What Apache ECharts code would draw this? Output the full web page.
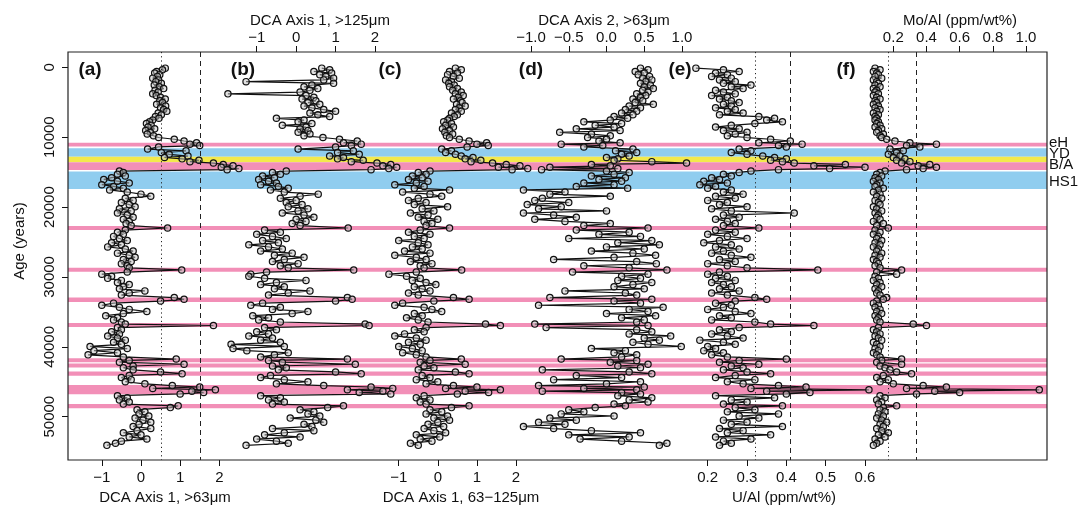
<!DOCTYPE html>
<html>
<head>
<meta charset="utf-8">
<script src="https://cdn.jsdelivr.net/npm/echarts@6/dist/echarts.min.js"></script>
<style>
  html, body { margin: 0; padding: 0; background: #fff; }
  #chart { width: 1084px; height: 506px; }
</style>
</head>
<body>
<div id="chart"></div>
<script>
// Sample ages (years), shared by all six down-core profiles
const ages = [
  120, 350, 600, 820, 1050, 1300, 1550, 1800, 2050, 2300,
  2550, 2800, 3050, 3300, 3550, 3800, 4050, 4300, 4550, 4800,
  5050, 5300, 5550, 5800, 6050, 6300, 6550, 6800, 7050, 7300,
  7550, 7800, 8050, 8300, 8550, 8800, 9050, 9300, 9550, 9800,
  10050, 10300, 10550, 10800, 11000, 11200, 11400, 11700, 11950, 12200,
  12450, 12700, 12900, 13100, 13300, 13500, 13700, 13900, 14100, 14300,
  14500, 14650, 14850, 15050, 15300, 15550, 15800, 16050, 16300, 16550,
  16800, 17050, 17300, 17550, 17850, 18150, 18450, 18750, 19050, 19350,
  19650, 19950, 20250, 20550, 20850, 21150, 21450, 21750, 22050, 22350,
  22650, 23000, 23300, 23600, 23900, 24200, 24500, 24800, 25100, 25400,
  25700, 26000, 26300, 26600, 26900, 27200, 27500, 27800, 28100, 28400,
  28700, 29000, 29300, 29600, 29900, 30200, 30500, 30800, 31100, 31400,
  31700, 32000, 32300, 32600, 32950, 33200, 33450, 33750, 34050, 34350,
  34650, 34950, 35250, 35550, 35850, 36150, 36450, 36750, 36950, 37250,
  37550, 37850, 38150, 38450, 38750, 39050, 39350, 39650, 39950, 40250,
  40550, 40850, 41150, 41450, 41750, 41950, 42200, 42500, 42750, 43000,
  43300, 43600, 43850, 44100, 44400, 44700, 45000, 45300, 45550, 45750,
  45950, 46150, 46350, 46550, 46750, 47000, 47300, 47600, 47900, 48200,
  48450, 48700, 49000, 49300, 49600, 49900, 50200, 50500, 50800, 51100,
  51400, 51700, 52000, 52300, 52600, 52900, 53200, 53500, 53800, 54100
];

// (a) DCA axis 1, >63 µm fraction
const dca1Over63 = [
  0.62, 0.55, 0.40, 0.35, 0.48, 0.42, 0.30, 0.45, 0.38, 0.52,
  0.34, 0.47, 0.58, 0.36, 0.44, 0.30, 0.39, 0.50, 0.62, 0.48,
  0.55, 0.40, 0.63, 0.50, 0.58, 0.66, 0.44, 0.52, 0.37, 0.46,
  0.30, 0.22, 0.14, 0.26, 0.18, 0.35, 0.12, 0.24, 0.16, 0.32,
  0.45, 0.85, 1.10, 1.42, 1.25, 1.50, 0.45, 0.17, 1.15, 0.52,
  0.72, 1.20, 0.60, 1.05, 1.48, 1.25, 1.85, 2.10, 2.35, 2.05,
  2.50, 2.20, -0.55, -0.45, -0.60, -0.40, -0.75, -0.95, -0.60, -0.30,
  -1.00, -0.70, -0.45, -0.80, -0.35, 0.00, 0.25, -0.40, -0.20, -0.50,
  -0.30, -0.15, -0.55, -0.25, -0.60, -0.35, -0.20, -0.45, -0.30, -0.38,
  -0.25, 0.68, -0.40, -0.60, -0.45, -0.70, -0.55, -0.35, -0.75, -0.50,
  -0.85, -0.40, -0.20, -0.60, -0.30, -0.15, -0.45, -0.25, -0.50, -0.35,
  -0.30, 1.04, -0.35, -1.00, -0.75, -0.85, -0.50, -0.60, -0.30, -0.45,
  -0.55, 0.10, -0.30, -0.50, 0.85, 1.10, 0.50, -0.70, -1.00, -0.55,
  -0.30, 0.15, -0.45, -0.90, -0.60, -0.70, -0.50, -0.40, 1.85, -0.60,
  -0.50, -0.75, -0.55, -0.85, -0.60, -0.40, -0.70, -0.50, -1.30, -0.35,
  -1.20, -0.60, -1.35, -0.45, 0.90, -0.30, -0.55, 1.10, -0.20, -0.45,
  -0.20, 0.50, 1.05, -0.30, -0.50, -0.25, -0.40, 0.10, 0.80, 1.50,
  0.30, 1.90, 1.30, 1.60, 1.00, -0.60, -0.35, -0.55, -0.30, -0.45,
  0.95, 0.75, -0.10, 0.10, -0.05, 0.20, -0.15, 0.05, 0.25, -0.05,
  -0.20, 0.25, -0.10, -0.45, 0.00, -0.30, 0.15, -0.50, -0.65, -0.87
];

// (b) DCA axis 1, >125 µm fraction
const dca1Over125 = [
  0.65, 0.85, 0.45, 0.90, 0.60, 0.75, 0.95, 0.70, -1.27, 0.95,
  0.40, 0.20, 0.55, 0.35, 0.10, -1.73, 0.25, 0.45, 0.15, 0.50,
  0.30, 0.60, 0.20, 0.40, 0.70, 1.00, 0.35, 0.55, 0.85, -0.50,
  0.20, 0.05, 0.40, -0.35, 0.25, 0.10, 0.30, 0.05, 0.35, 0.20,
  0.68, 1.10, 1.55, 1.20, 1.65, 1.40, 1.00, 0.05, 1.45, 1.05,
  1.60, 0.85, 1.20, 1.05, 1.70, 1.40, 2.05, 2.40, 2.20, 2.55,
  2.35, 1.90, -0.25, -0.60, -0.40, -0.85, -0.55, -0.95, -0.70, -0.50,
  -0.90, -0.45, -0.20, -0.65, -0.30, 0.56, 0.10, -0.40, 0.00, -0.25,
  0.15, -0.20, 0.30, 0.05, -0.35, 0.20, 0.45, 0.00, 0.25, -0.10,
  0.10, 1.32, -0.80, -0.40, -1.00, -0.60, -0.25, -0.85, -0.45, -1.20,
  -0.70, -0.35, -0.90, -0.10, -0.55, 0.20, -0.30, -0.60, 0.05, -0.40,
  -0.20, 1.46, -0.75, -1.15, -1.20, -0.80, 0.25, -0.50, -0.90, -0.30,
  -0.55, 0.35, -0.20, -0.70, 1.30, 1.42, 1.00, -0.85, -1.15, -0.40,
  -0.60, 0.30, -0.10, -1.10, -0.70, -0.95, -0.40, 1.75, 1.85, -0.80,
  -0.50, -1.00, -0.70, -1.20, -0.60, -0.90, -0.40, -1.65, -0.30, -1.60,
  -1.25, -0.20, -0.55, -0.90, 1.30, -0.70, -0.35, 1.50, -0.60, -0.25,
  -0.45, 1.00, 1.65, -0.65, -0.90, -0.30, 0.30, -0.50, 0.70, 1.90,
  2.45, 1.30, 2.20, 1.60, 2.40, -0.90, -0.40, -0.70, -0.30, -0.60,
  1.20, 0.80, 0.10, 0.45, 0.30, 0.60, -0.15, 0.50, 0.70, 0.20,
  0.40, -0.60, 0.45, -0.30, -0.80, 0.10, -1.00, -0.50, -0.20, -1.27
];

// (c) DCA axis 1, 63–125 µm fraction
const dca1Fine = [
  0.45, 0.60, 0.30, 0.50, 0.25, 0.40, 0.55, 0.20, 0.35, 0.28,
  0.42, 0.30, 0.50, 0.38, 0.60, 0.45, 0.65, 0.52, 0.40, 0.58,
  0.62, 0.48, 0.70, 0.55, 0.45, 0.60, 0.35, 0.50, 0.42, 0.30,
  0.25, 0.15, 0.35, 0.20, 0.40, 0.12, 0.30, 0.18, 0.38, 0.22,
  0.30, 0.55, 0.80, 1.25, 1.00, 1.29, 0.75, 0.10, 0.35, 0.20,
  0.45, 0.60, 0.90, 0.70, 1.10, 0.85, 1.40, 1.75, 2.10, 1.55,
  2.30, 1.90, -0.20, -0.50, -0.30, -0.65, -0.40, -0.75, -0.25, -0.55,
  -1.10, -0.35, -0.60, 0.30, -0.90, -0.20, 0.10, -0.50, -0.75, -0.30,
  -0.60, 0.25, -0.40, -0.10, -0.70, -0.25, -0.50, 0.00, -0.35, -0.15,
  -0.30, 0.30, -0.45, -0.75, -0.20, -0.60, -0.35, -1.00, -0.50, -0.25,
  -0.65, -0.40, -0.85, -0.20, -1.10, -0.55, -0.30, -0.70, -0.15, -0.45,
  -0.35, 0.61, -0.55, -1.25, -0.80, -0.45, -0.65, -0.30, -0.05, -0.60,
  -0.40, -0.20, -0.75, -0.50, 0.40, 0.80, -0.10, -0.90, -1.10, -0.35,
  -0.15, 0.10, -0.60, -0.40, -0.80, -0.50, -0.25, 1.22, 1.60, -0.30,
  -0.60, -0.35, -0.85, -1.10, -0.55, -0.30, -0.75, -0.45, -1.00, -0.65,
  -0.40, -0.90, -0.55, -0.30, 0.60, -0.20, -0.45, 0.70, -0.35, -0.10,
  -0.50, 0.45, 0.80, -0.40, -0.20, -0.55, 0.00, -0.30, 0.40, 1.00,
  0.20, 1.60, 0.70, 1.30, 0.50, -0.35, -0.55, -0.20, -0.45, -0.30,
  0.80, 0.35, -0.20, 0.10, -0.30, 0.25, -0.10, 0.30, 0.00, -0.25,
  0.15, -0.35, -0.10, 0.20, -0.55, 0.05, -0.45, -0.15, -0.70, -0.50
];

// (d) DCA axis 2, >63 µm fraction
const dca2Over63 = [
  0.45, 0.55, 0.38, 0.50, 0.42, 0.57, 0.48, 0.60, 0.52, 0.45,
  0.58, 0.50, 0.62, 0.48, 0.55, 0.40, 0.52, 0.45, 0.35, 0.48,
  0.38, 0.62, 0.30, 0.45, 0.25, 0.40, 0.20, 0.35, 0.10, 0.28,
  0.05, -0.30, 0.20, -0.15, 0.10, -0.40, 0.18, -0.62, -0.20, 0.05,
  -0.25, 0.00, -0.10, 0.18, -0.60, -0.05, -0.30, 0.35, 0.12, 0.40,
  0.20, 0.30, 0.00, 0.15, 0.10, 0.60, 1.06, -0.20, 0.05, -0.75,
  0.15, -0.86, 0.00, 0.30, 0.10, -0.20, 0.25, -0.10, 0.20, -0.30,
  0.10, -0.40, 0.28, -1.10, -0.55, -0.75, 0.05, -0.85, -0.95, -0.50,
  -1.05, -0.60, -0.90, 0.00, -1.10, -0.70, -0.40, -0.95, -0.55, 0.05,
  -0.30, 0.55, -0.40, 0.30, -0.10, 0.45, -0.50, 0.60, 0.15, 0.70,
  0.00, 0.50, -0.20, 0.35, 0.65, 0.10, -0.70, 0.40, 0.66, -0.30,
  0.30, 0.80, -0.45, 0.55, 0.20, 0.45, 0.15, 0.60, 0.35, 0.10,
  0.50, -0.55, 0.25, 0.40, -0.75, 0.60, 0.10, 0.45, -0.90, 0.75,
  0.30, 0.55, 0.00, 0.65, 0.20, 0.50, 0.40, -0.95, 0.55, -0.80,
  0.40, 0.60, 0.30, 0.85, 0.50, 0.70, 0.35, 0.55, 0.99, -0.20,
  0.25, 0.10, 0.40, 0.20, -0.60, 0.40, 0.05, 0.55, 0.15, 0.45,
  -0.85, 0.30, 0.60, -0.40, 0.20, -0.70, 0.45, 0.00, -0.90, 0.50,
  -0.30, 0.40, -0.85, 0.20, 0.45, 0.15, 0.60, 0.30, 0.55, 0.10,
  0.25, -0.15, -0.50, -0.30, -0.60, 0.10, -0.75, -0.40, -0.90, -0.55,
  -1.10, -0.70, -0.20, 0.45, -0.50, 0.30, -0.35, 0.20, 0.80, 0.70
];

// (e) U/Al (ppm/wt%)
const uAl = [
  0.17, 0.24, 0.28, 0.22, 0.25, 0.21, 0.26, 0.23, 0.27, 0.24,
  0.31, 0.26, 0.29, 0.22, 0.24, 0.27, 0.21, 0.25, 0.23, 0.26,
  0.28, 0.24, 0.26, 0.22, 0.27, 0.25, 0.29, 0.23, 0.33, 0.37,
  0.35, 0.39, 0.32, 0.26, 0.22, 0.28, 0.24, 0.30, 0.27, 0.25,
  0.30, 0.36, 0.41, 0.33, 0.44, 0.38, 0.40, 0.28, 0.31, 0.26,
  0.30, 0.34, 0.37, 0.40, 0.36, 0.39, 0.42, 0.55, 0.47, 0.60,
  0.51, 0.38, 0.31, 0.28, 0.24, 0.26, 0.21, 0.23, 0.19, 0.25,
  0.18, 0.22, 0.20, 0.26, 0.24, 0.29, 0.22, 0.27, 0.20, 0.25,
  0.23, 0.30, 0.21, 0.26, 0.42, 0.24, 0.28, 0.22, 0.25, 0.27,
  0.24, 0.33, 0.22, 0.27, 0.20, 0.25, 0.30, 0.23, 0.19, 0.26,
  0.22, 0.28, 0.24, 0.21, 0.26, 0.31, 0.23, 0.27, 0.20, 0.25,
  0.30, 0.48, 0.23, 0.20, 0.25, 0.22, 0.27, 0.21, 0.24, 0.26,
  0.23, 0.28, 0.21, 0.25, 0.32, 0.35, 0.27, 0.22, 0.26, 0.24,
  0.20, 0.27, 0.31, 0.23, 0.26, 0.21, 0.32, 0.36, 0.47, 0.28,
  0.23, 0.26, 0.21, 0.25, 0.29, 0.18, 0.24, 0.27, 0.20, 0.22,
  0.19, 0.24, 0.21, 0.25, 0.40, 0.28, 0.23, 0.33, 0.26, 0.29,
  0.24, 0.30, 0.36, 0.27, 0.22, 0.32, 0.25, 0.29, 0.38, 0.45,
  0.31, 0.61, 0.35, 0.46, 0.40, 0.22, 0.37, 0.26, 0.30, 0.24,
  0.39, 0.27, 0.32, 0.25, 0.38, 0.28, 0.33, 0.24, 0.30, 0.26,
  0.39, 0.23, 0.29, 0.25, 0.36, 0.22, 0.31, 0.24, 0.26, 0.23
];

// (f) Mo/Al (ppm/wt%)
const moAl = [
  0.09, 0.12, 0.08, 0.10, 0.11, 0.09, 0.13, 0.08, 0.10, 0.11,
  0.09, 0.12, 0.08, 0.10, 0.09, 0.11, 0.08, 0.10, 0.12, 0.09,
  0.10, 0.08, 0.11, 0.09, 0.12, 0.10, 0.08, 0.11, 0.09, 0.10,
  0.09, 0.11, 0.10, 0.12, 0.09, 0.13, 0.11, 0.10, 0.14, 0.12,
  0.13, 0.16, 0.21, 0.30, 0.46, 0.28, 0.36, 0.18, 0.26, 0.22,
  0.17, 0.24, 0.20, 0.27, 0.22, 0.30, 0.25, 0.42, 0.35, 0.46,
  0.38, 0.28, 0.15, 0.12, 0.10, 0.13, 0.09, 0.11, 0.08, 0.12,
  0.10, 0.09, 0.14, 0.11, 0.08, 0.12, 0.10, 0.13, 0.09, 0.11,
  0.12, 0.08, 0.10, 0.13, 0.09, 0.11, 0.10, 0.12, 0.08, 0.14,
  0.10, 0.17, 0.09, 0.12, 0.08, 0.11, 0.10, 0.13, 0.09, 0.12,
  0.08, 0.11, 0.10, 0.13, 0.09, 0.12, 0.08, 0.10, 0.11, 0.09,
  0.12, 0.25, 0.10, 0.22, 0.09, 0.11, 0.08, 0.12, 0.10, 0.13,
  0.09, 0.11, 0.10, 0.12, 0.16, 0.14, 0.10, 0.08, 0.11, 0.09,
  0.12, 0.10, 0.13, 0.09, 0.11, 0.10, 0.12, 0.32, 0.40, 0.11,
  0.08, 0.10, 0.12, 0.09, 0.11, 0.13, 0.08, 0.10, 0.12, 0.09,
  0.11, 0.08, 0.10, 0.12, 0.25, 0.13, 0.10, 0.25, 0.12, 0.15,
  0.18, 0.22, 0.31, 0.14, 0.10, 0.17, 0.12, 0.20, 0.38, 0.52,
  0.28, 1.08, 0.45, 0.60, 0.34, 0.12, 0.15, 0.10, 0.13, 0.11,
  0.22, 0.14, 0.12, 0.15, 0.11, 0.14, 0.10, 0.13, 0.16, 0.12,
  0.14, 0.10, 0.13, 0.17, 0.11, 0.15, 0.09, 0.12, 0.10, 0.08
];

// Climate intervals (age ranges, years) and their kind
const bandFrom = [10800, 11600, 12800, 13600, 14900, 22700, 28700, 32950, 36600, 41650, 42400, 43550, 45450, 48200];
const bandTo   = [11350, 12800, 13600, 14700, 17400, 23300, 29250, 33600, 37150, 42200, 42950, 44150, 46800, 48800];
const bandKind = ['pink', 'blue', 'yellow', 'pink', 'blue', 'pink', 'pink', 'pink', 'pink', 'pink', 'pink', 'pink', 'pink', 'pink'];

// Interval names written at the right-hand margin, with the age each one labels
const eventNames = ['eH', 'YD', 'B/A', 'HS1'];
const eventAges  = [10850, 12400, 13980, 16420];

// Tick values
const ageTicks  = [0, 10000, 20000, 30000, 40000, 50000];
const dcaTicks  = [-1, 0, 1, 2];
const dca2Ticks = [-1.0, -0.5, 0.0, 0.5, 1.0];
const uAlTicks  = [0.2, 0.3, 0.4, 0.5, 0.6];
const moAlTicks = [0.2, 0.4, 0.6, 0.8, 1.0];

// Reference (threshold) lines: dotted, dashed
const dca1Thresholds = [0.52, 1.52];
const uAlThresholds  = [0.32, 0.41];
const moAlThresholds = [0.17, 0.34];

// ---------------------------------------------------------------- layout
const FONT = '"Liberation Sans", Arial, Helvetica, sans-serif';
const INK = '#111';
const GRID = { left: 68, top: 52, width: 979, height: 408 };
const AGE_RANGE = [-2190, 56200];
const BAND_COLORS = { pink: '#F28FB7', blue: '#90CDEF', yellow: '#F3E94C' };

// Each panel sits in its own horizontal slot of the shared plot box:
// `span` gives two tick values and the pixel columns they sit at.
const panels = [
  { values: dca1Over63,  ticks: dcaTicks,  digits: 0, side: 'bottom', span: [-1, 101.8, 2, 219.3],
    title: 'DCA Axis 1, >63μm', titleX: 165, letter: '(a)', letterX: 90, refs: dca1Thresholds },
  { values: dca1Over125, ticks: dcaTicks,  digits: 0, side: 'top',    span: [-1, 256.7, 2, 375.0],
    title: 'DCA Axis 1, >125μm', titleX: 320, letter: '(b)', letterX: 243, refs: [] },
  { values: dca1Fine,    ticks: dcaTicks,  digits: 0, side: 'bottom', span: [-1, 398.7, 2, 516.0],
    title: 'DCA Axis 1, 63\u2212125μm', titleX: 461, letter: '(c)', letterX: 390, refs: [] },
  { values: dca2Over63,  ticks: dca2Ticks, digits: 1, side: 'top',    span: [-1, 531.0, 1, 682.0],
    title: 'DCA Axis 2, >63μm', titleX: 604, letter: '(d)', letterX: 531, refs: [] },
  { values: uAl,         ticks: uAlTicks,  digits: 1, side: 'bottom', span: [0.2, 707.7, 0.6, 865.0],
    title: 'U/Al (ppm/wt%)', titleX: 784, letter: '(e)', letterX: 680, refs: uAlThresholds },
  { values: moAl,        ticks: moAlTicks, digits: 1, side: 'top',    span: [0.2, 893.3, 1.0, 1026.0],
    title: 'Mo/Al (ppm/wt%)', titleX: 960, letter: '(f)', letterX: 846, refs: moAlThresholds }
];

function axisExtent(span) {
  const [v1, p1, v2, p2] = span;
  const k = (v2 - v1) / (p2 - p1);
  return [v1 + (GRID.left - p1) * k, v1 + (GRID.left + GRID.width - p1) * k];
}

const fmt = (digits) => (v) => Number(v).toFixed(digits).replace('-', '\u2212');

const xAxes = [
  // helper axis spanning the whole box, carries the shaded intervals
  { type: 'value', gridIndex: 0, min: 0, max: 1, show: false }
].concat(panels.map((p) => {
  const [mn, mx] = axisExtent(p.span);
  return {
    type: 'value', gridIndex: 0, min: mn, max: mx, position: p.side,
    axisLine: { show: false, onZero: false },
    splitLine: { show: false },
    axisTick: { show: true, customValues: p.ticks, length: 6, lineStyle: { color: INK, width: 1 } },
    axisLabel: {
      show: true, customValues: p.ticks, formatter: fmt(p.digits),
      color: INK, fontFamily: FONT, fontSize: 15, margin: p.side === 'top' ? 7 : 10
    }
  };
}));

const lineDash = [[1.2, 3], [5, 4]];

const series = [{
  type: 'line', xAxisIndex: 0, yAxisIndex: 0, data: [], silent: true, z: 1,
  markArea: {
    silent: true,
    data: bandFrom.map((f, i) => [
      { yAxis: f, itemStyle: { color: BAND_COLORS[bandKind[i]], opacity: 1 } },
      { yAxis: bandTo[i] }
    ])
  }
}].concat(panels.map((p, i) => ({
  type: 'line', xAxisIndex: i + 1, yAxisIndex: 0, z: 3, silent: true,
  data: ages.map((a, j) => [p.values[j], a]),
  symbol: 'circle', symbolSize: 6.3, showSymbol: true, showAllSymbol: true,
  lineStyle: { color: INK, width: 1.2 },
  itemStyle: { color: 'rgba(195,195,195,0.5)', borderColor: INK, borderWidth: 1.2 },
  markLine: p.refs.length ? {
    silent: true, symbol: ['none', 'none'], label: { show: false },
    data: p.refs.map((v, k) => ({ xAxis: v, lineStyle: { color: '#222', width: 1, type: lineDash[k] } }))
  } : undefined
})));

const chart = echarts.init(document.getElementById('chart'), null, { renderer: 'canvas' });

chart.setOption({
  animation: false,
  backgroundColor: '#fff',
  textStyle: { fontFamily: FONT },
  grid: [{ left: GRID.left, top: GRID.top, width: GRID.width, height: GRID.height, containLabel: false }],
  xAxis: xAxes,
  yAxis: [{
    type: 'value', gridIndex: 0, inverse: true, min: AGE_RANGE[0], max: AGE_RANGE[1], position: 'left',
    axisLine: { show: false, onZero: false },
    splitLine: { show: false },
    axisTick: { show: true, customValues: ageTicks, length: 6, lineStyle: { color: INK, width: 1 } },
    axisLabel: {
      show: true, customValues: ageTicks, rotate: 90, color: INK, fontFamily: FONT, fontSize: 15, margin: 11,
      formatter: (v) => String(v)
    }
  }],
  series: series
});

// Titles, panel letters, interval names and the plot frame
const graphics = [{
  type: 'rect', z: 100, silent: true,
  shape: { x: GRID.left, y: GRID.top, width: GRID.width, height: GRID.height },
  style: { fill: null, stroke: '#222', lineWidth: 1.2 }
}, {
  type: 'text', z: 100, silent: true, x: 20, y: 241, rotation: Math.PI / 2,
  style: { text: 'Age (years)', fill: INK, font: '15px ' + FONT, align: 'center', verticalAlign: 'middle' }
}];
panels.forEach((p) => {
  graphics.push({
    type: 'text', z: 100, silent: true, x: p.titleX, y: p.side === 'top' ? 21 : 498,
    style: { text: p.title, fill: INK, font: '15px ' + FONT, align: 'center', verticalAlign: 'middle' }
  });
  graphics.push({
    type: 'text', z: 100, silent: true, x: p.letterX, y: 70,
    style: { text: p.letter, fill: INK, font: 'bold 19px ' + FONT, align: 'center', verticalAlign: 'middle' }
  });
});
eventNames.forEach((name, i) => {
  const y = chart.convertToPixel({ yAxisIndex: 0 }, eventAges[i]);
  graphics.push({
    type: 'text', z: 100, silent: true, x: GRID.left + GRID.width + 2, y: y,
    style: { text: name, fill: INK, font: '15px ' + FONT, align: 'left', verticalAlign: 'middle' }
  });
});
chart.setOption({ graphic: graphics });
</script>
</body>
</html>
